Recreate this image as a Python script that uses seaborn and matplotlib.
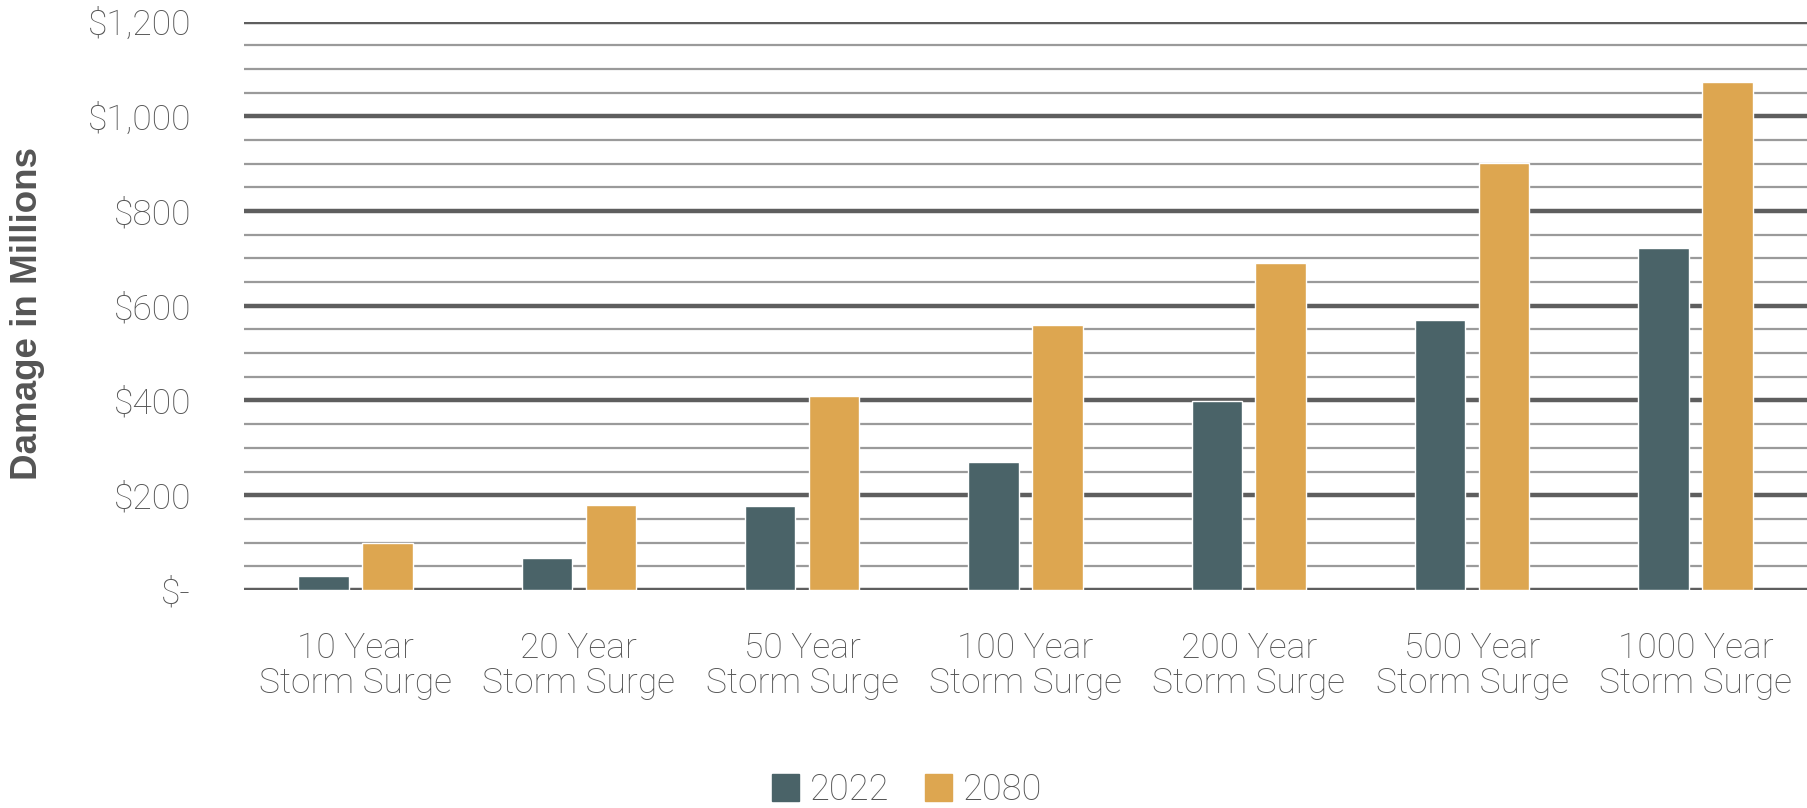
import pandas as pd
import matplotlib.pyplot as plt
import seaborn as sns
from matplotlib.ticker import MultipleLocator, FuncFormatter

categories = ['10 Year\nStorm Surge', '20 Year\nStorm Surge', '50 Year\nStorm Surge',
              '100 Year\nStorm Surge', '200 Year\nStorm Surge', '500 Year\nStorm Surge',
              '1000 Year\nStorm Surge']
damage_2022 = [30, 68, 178, 270, 398, 570, 722]
damage_2080 = [100, 180, 410, 560, 690, 902, 1073]
years = ['2022', '2080']
colors = ['#4a6368', '#dda650']

data = pd.DataFrame({
    'Event': categories * 2,
    'Damage': damage_2022 + damage_2080,
    'Year': [years[0]] * len(categories) + [years[1]] * len(categories),
})

sns.set_style('white')
plt.rcParams['font.family'] = ['Roboto', 'DejaVu Sans']
text_color = '#555555'

fig = plt.figure(figsize=(18.07, 8.08), dpi=100)
ax = fig.add_axes([0.135, 0.27, 0.865, 0.703])

sns.barplot(data=data, x='Event', y='Damage', hue='Year', palette=colors,
            width=0.572, gap=0.21, ax=ax, legend=False, saturation=1)

ax.set_ylim(0, 1200)
ax.set_xlim(-0.5, 6.5)
ax.yaxis.set_major_locator(MultipleLocator(200))
ax.yaxis.set_minor_locator(MultipleLocator(50))
ax.yaxis.set_major_formatter(FuncFormatter(lambda v, p: '$-' if v == 0 else f'${v:,.0f}'))
ax.grid(axis='y', which='major', color='#5e5e5e', linewidth=3.2)
ax.grid(axis='y', which='minor', color='#9a9a9a', linewidth=1.6)
ax.grid(axis='x', visible=False)
ax.set_axisbelow(True)
for s in ax.spines.values():
    s.set_visible(False)
ax.tick_params(axis='both', which='both', length=0, labelsize=25.5, labelcolor=text_color)
ax.tick_params(axis='y', pad=38)
ax.tick_params(axis='x', pad=30)
for lab in ax.get_xticklabels() + ax.get_yticklabels():
    lab.set_fontweight('light')
for lab in ax.get_xticklabels():
    lab.set_linespacing(1.05)

ax.set_xlabel('')
ax.set_ylabel('Damage in Millions', fontsize=26.5, fontweight='bold', color=text_color,
              family=['Liberation Sans', 'DejaVu Sans'])
ax.yaxis.set_label_coords(-0.127, 0.486)

handles = [plt.Rectangle((0, 0), 1, 1, color=c) for c in colors]
fig.legend(handles, years, loc='center', bbox_to_anchor=(0.502, 0.022), ncol=2,
           frameon=False, handlelength=0.75, handleheight=0.75,
           handletextpad=0.3, columnspacing=1.0, labelcolor=text_color,
           prop={'weight': 'light', 'size': 26})

fig.savefig('out.png', dpi=100)
